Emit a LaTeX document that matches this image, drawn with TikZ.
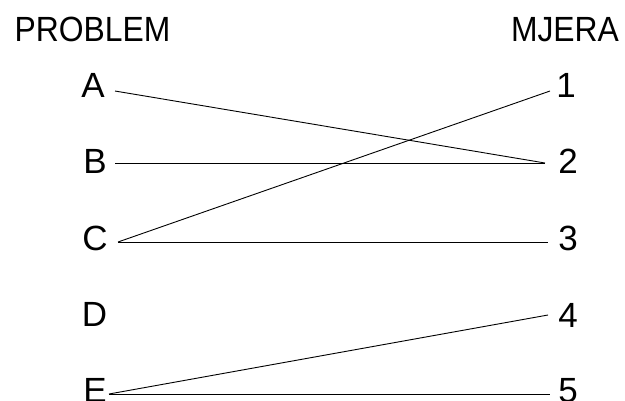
\documentclass[tikz,border=0pt]{standalone}
\usepackage{fontspec}
\setmainfont{Liberation Sans}
\begin{document}
\begin{tikzpicture}[x=1pt,y=-1pt,
  lbl/.style={inner sep=0pt, anchor=base, font=\fontsize{35}{40}\selectfont},
  head/.style={inner sep=0pt, anchor=base, font=\fontsize{35}{40}\selectfont, xscale=0.91},
  conn/.style={line width=0.9pt}]
\useasboundingbox (0,0) rectangle (625,400);
\node[head] (hp) at (92.5,41.7) {PROBLEM};
\node[head] (hm) at (565,41.7) {MJERA};
\node[lbl] (A) at (93,97) {A};
\node[lbl] (B) at (95,173) {B};
\node[lbl] (C) at (95,250) {C};
\node[lbl] (D) at (94.5,326) {D};
\node[lbl] (E) at (95,402) {E};
\node[lbl] (n1) at (566,97) {1};
\node[lbl] (n2) at (568,173) {2};
\node[lbl] (n3) at (568,250) {3};
\node[lbl] (n4) at (568,327) {4};
\node[lbl] (n5) at (568,402) {5};
\draw[conn] ([shift={(22,-6)}]A.base) -- ([shift={(-23,-10)}]n2.base);
\draw[conn] ([shift={(20,-10)}]B.base) -- ([shift={(-23,-10)}]n2.base);
\draw[conn] ([shift={(23,-8)}]C.base) -- ([shift={(-16,-6)}]n1.base);
\draw[conn] ([shift={(23,-8)}]C.base) -- ([shift={(-20,-8)}]n3.base);
\draw[conn] ([shift={(14,-8)}]E.base) -- ([shift={(-20,-12)}]n4.base);
\draw[conn] ([shift={(14,-8)}]E.base) -- ([shift={(-18,-8)}]n5.base);
\end{tikzpicture}
\end{document}
